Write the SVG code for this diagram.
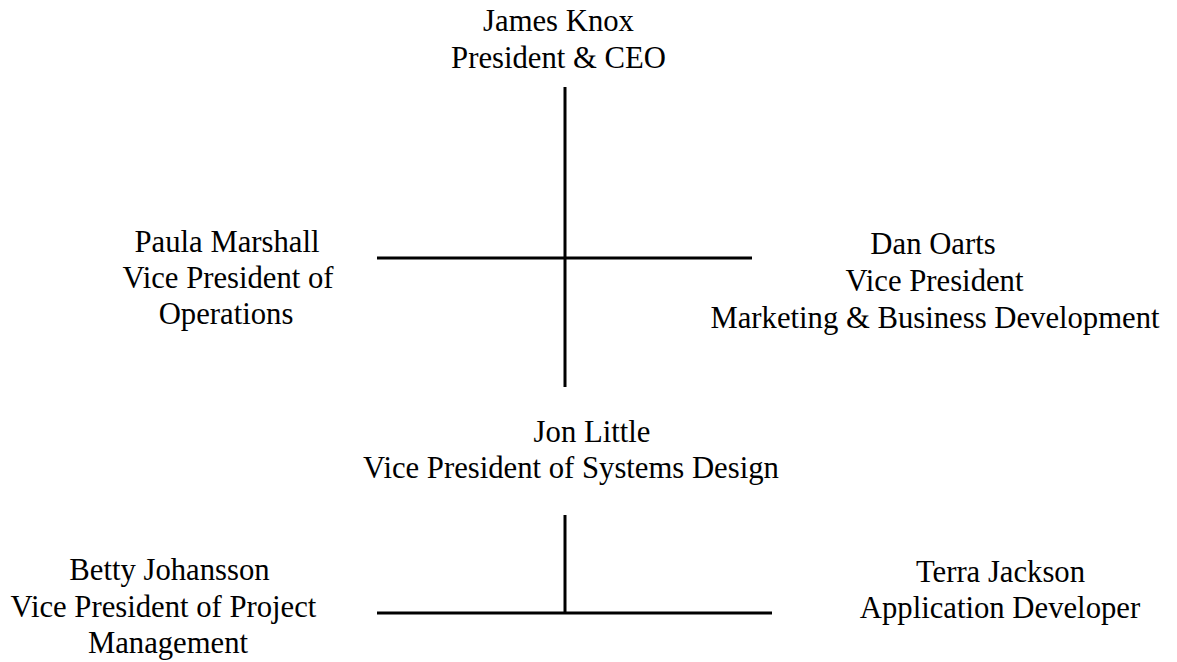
<svg xmlns="http://www.w3.org/2000/svg" width="1177" height="662" viewBox="0 0 1177 662">
  <style>
    .lbl { font-size: 30.7px; fill: #000; text-anchor: middle; }
    .conn line { stroke: #000; stroke-width: 3; }
  </style>
  <rect width="1177" height="662" fill="#fff"/>

  <g id="connectors" class="conn">
    <line x1="565" y1="87" x2="565" y2="387"/>
    <line x1="377" y1="258" x2="752" y2="258"/>
    <line x1="565" y1="515" x2="565" y2="613"/>
    <line x1="377" y1="613" x2="772" y2="613"/>
  </g>

  <g font-family="Liberation Serif, DejaVu Serif, serif">
    <g id="james-knox">
      <text class="lbl" x="558.5" y="31">James Knox</text>
      <text class="lbl" x="558.5" y="68">President &amp; CEO</text>
    </g>

    <g id="paula-marshall">
      <text class="lbl" x="227" y="252">Paula Marshall</text>
      <text class="lbl" x="228" y="288">Vice President of</text>
      <text class="lbl" x="226" y="324">Operations</text>
    </g>

    <g id="dan-oarts">
      <text class="lbl" x="933" y="254">Dan Oarts</text>
      <text class="lbl" x="934.5" y="291">Vice President</text>
      <text class="lbl" x="935" y="328">Marketing &amp; Business Development</text>
    </g>

    <g id="jon-little">
      <text class="lbl" x="592" y="442">Jon Little</text>
      <text class="lbl" x="571" y="478">Vice President of Systems Design</text>
    </g>

    <g id="betty-johansson">
      <text class="lbl" x="169.5" y="580">Betty Johansson</text>
      <text class="lbl" x="163.5" y="617">Vice President of Project</text>
      <text class="lbl" x="168" y="653">Management</text>
    </g>

    <g id="terra-jackson">
      <text class="lbl" x="1000.5" y="582">Terra Jackson</text>
      <text class="lbl" x="1000" y="618">Application Developer</text>
    </g>
  </g>
</svg>
